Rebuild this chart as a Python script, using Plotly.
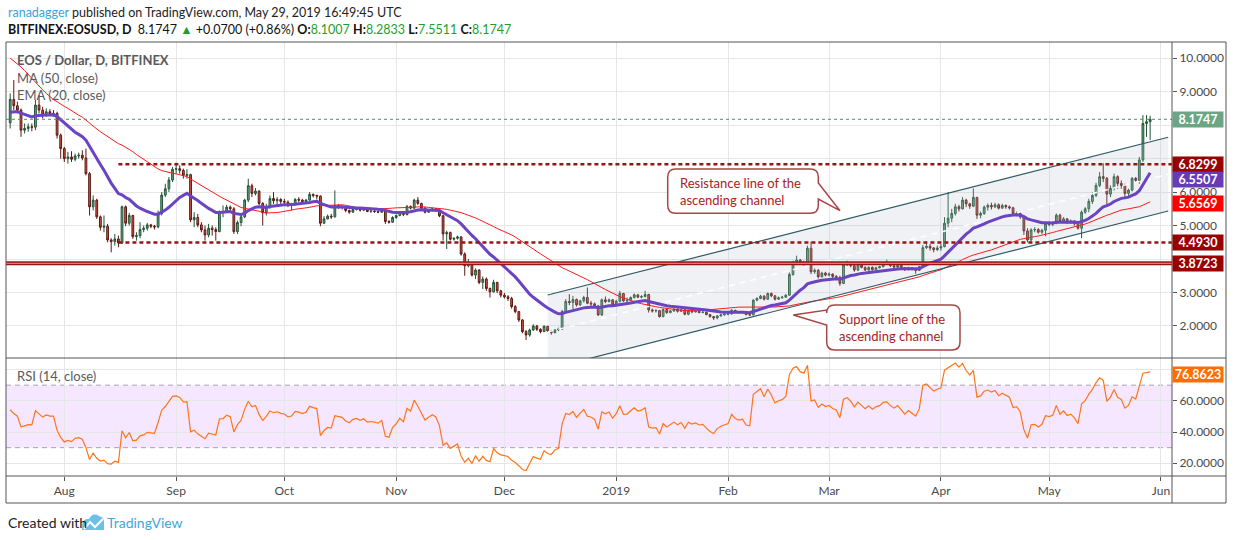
#!/usr/bin/env python3
"""
EOS / Dollar daily chart with MA50, EMA20, ascending channel and RSI(14)
"""

import pandas as pd
import plotly.graph_objs as go

# ---------------------------------------------------------------- data
start_date = "2018-07-17"
first_open = 8.07

close = [
    # Jul 17-31
    8.77, 8.58, 8.45, 7.85, 7.90, 7.95, 7.94, 8.60, 8.45, 8.30, 8.40, 8.35, 8.35, 7.70, 7.30,
    # Aug
    7.00, 7.05, 6.98, 7.08, 7.10, 7.02, 6.55, 5.56, 5.76, 5.26, 4.95, 4.98, 4.57, 4.52, 4.60, 4.48,
    5.56, 5.07, 5.30, 4.67, 4.70, 4.88, 4.92, 5.02, 4.98, 4.96, 5.36, 5.91, 6.10, 6.36, 6.68,
    # Sep
    6.70, 6.65, 6.50, 6.52, 5.17, 5.24, 5.02, 4.87, 4.72, 4.92, 4.88, 4.82, 5.41, 5.42, 5.55,
    5.50, 4.82, 5.09, 5.26, 5.76, 6.19, 5.96, 6.03, 5.66, 5.38, 5.56, 5.81, 5.74, 5.78, 5.72,
    # Oct
    5.70, 5.60, 5.63, 5.78, 5.76, 5.72, 5.76, 5.93, 5.90, 5.88, 5.07, 5.20, 5.28, 5.26, 5.60, 5.57,
    5.55, 5.45, 5.40, 5.48, 5.50, 5.46, 5.49, 5.42, 5.43, 5.42, 5.40, 5.44, 5.12, 5.10, 5.24,
    # Nov
    5.30, 5.39, 5.33, 5.57, 5.52, 5.76, 5.66, 5.52, 5.40, 5.45, 5.50, 5.46, 5.29, 4.75, 4.79,
    4.59, 4.62, 4.66, 4.15, 3.80, 3.87, 3.52, 3.67, 3.30, 3.40, 3.12, 3.02, 3.30, 3.05, 2.92,
    # Dec
    2.87, 2.82, 2.58, 2.43, 2.18, 1.83, 1.73, 1.88, 2.00, 1.90, 1.83, 1.99, 1.85, 1.80, 1.88, 1.91,
    2.43, 2.73, 2.70, 2.79, 2.63, 2.75, 2.85, 2.68, 2.66, 2.60, 2.33, 2.78, 2.73, 2.78, 2.62,
    # Jan
    2.74, 2.97, 2.75, 2.76, 2.85, 2.93, 2.86, 2.88, 2.94, 2.48, 2.45, 2.46, 2.28, 2.49, 2.40, 2.45,
    2.50, 2.44, 2.48, 2.35, 2.46, 2.42, 2.44, 2.40, 2.41, 2.34, 2.28, 2.24, 2.30, 2.33, 2.35,
    # Feb
    2.36, 2.47, 2.42, 2.40, 2.41, 2.34, 2.33, 2.77, 2.82, 2.89, 2.80, 2.97, 2.90, 2.80,
    2.84, 2.86, 2.92, 3.54, 3.87, 3.97, 3.90, 3.88, 4.32, 3.62, 3.66, 3.47, 3.58, 3.52,
    # Mar
    3.55, 3.48, 3.45, 3.27, 3.82, 3.88, 3.80, 3.67, 3.82, 3.75, 3.67, 3.75, 3.68, 3.74, 3.77, 3.85,
    3.86, 3.80, 3.76, 3.81, 3.74, 3.68, 3.74, 3.70, 3.66, 3.77, 4.34, 4.38, 4.33, 4.28, 4.33,
    # Apr
    4.37, 5.07, 5.22, 5.36, 5.56, 5.50, 5.76, 5.65, 5.58, 5.84, 5.31, 5.36, 5.55, 5.60, 5.56,
    5.62, 5.52, 5.60, 5.56, 5.53, 5.34, 5.36, 5.26, 4.84, 4.57, 4.87, 4.88, 4.80, 4.86, 5.06,
    # May 1-29
    5.04, 5.07, 5.31, 5.12, 5.20, 5.10, 5.13, 5.05, 4.92, 5.40, 5.50, 5.72, 5.90, 6.20, 6.46,
    6.41, 5.94, 6.11, 6.46, 6.26, 6.20, 5.96, 6.06, 6.41, 6.35, 6.96, 8.05, 8.1007, 8.1747,
]

high = [
    8.95, 9.35, 8.70, 8.50, 8.05, 8.05, 8.05, 8.75, 8.90, 8.55, 8.50, 8.48, 8.45, 8.40, 7.75,
    7.35, 7.20, 7.22, 7.15, 7.18, 7.25, 7.30, 6.60, 5.90, 5.80, 5.30, 5.30, 5.05, 4.62, 4.75, 4.70,
    5.60, 5.60, 5.38, 5.32, 4.80, 5.10, 5.00, 5.08, 5.05, 5.02, 5.45, 6.00, 6.25, 6.45, 6.75,
    6.88, 6.80, 6.70, 6.68, 6.55, 5.40, 5.35, 5.10, 5.00, 5.05, 5.00, 4.95, 5.45, 5.60, 5.62,
    5.60, 5.55, 5.15, 5.35, 5.80, 6.40, 6.25, 6.12, 6.05, 5.70, 5.65, 5.90, 6.00, 5.85, 5.82,
    5.80, 5.75, 5.68, 5.82, 5.85, 5.80, 5.80, 6.00, 5.96, 5.92, 5.90, 5.28, 5.33, 5.35, 6.05, 5.64,
    5.60, 5.58, 5.48, 5.52, 5.55, 5.52, 5.52, 5.52, 5.47, 5.46, 5.45, 5.47, 5.46, 5.16, 5.28,
    5.33, 5.42, 5.40, 5.62, 5.60, 5.80, 5.85, 5.68, 5.55, 5.48, 5.53, 5.52, 5.48, 5.32, 4.85,
    4.82, 4.65, 4.70, 4.68, 4.20, 4.00, 3.90, 3.72, 3.70, 3.48, 3.45, 3.15, 3.38, 3.32, 3.08,
    2.99, 2.92, 2.87, 2.62, 2.45, 2.20, 1.88, 1.92, 2.05, 2.03, 1.93, 2.02, 2.00, 1.88, 1.90, 1.95,
    2.48, 2.80, 2.95, 2.90, 2.82, 2.78, 2.90, 3.15, 2.75, 2.70, 2.63, 2.82, 2.88, 2.82, 2.80,
    2.78, 3.05, 2.99, 2.85, 2.88, 2.97, 2.95, 2.92, 3.05, 2.96, 2.52, 2.50, 2.48, 2.52, 2.52, 2.48,
    2.53, 2.52, 2.50, 2.50, 2.49, 2.48, 2.47, 2.46, 2.44, 2.43, 2.36, 2.30, 2.32, 2.36, 2.38,
    2.40, 2.50, 2.48, 2.44, 2.44, 2.42, 2.38, 2.80, 2.86, 2.93, 2.92, 3.00, 3.00, 2.92,
    2.88, 2.90, 2.95, 3.60, 3.95, 4.10, 4.00, 3.95, 4.40, 4.52, 3.72, 3.70, 3.62, 3.62,
    3.60, 3.57, 3.52, 3.50, 3.88, 3.95, 3.92, 3.82, 3.86, 3.84, 3.78, 3.78, 3.78, 3.77, 3.80, 3.90,
    3.98, 3.88, 3.82, 3.85, 3.83, 3.76, 3.77, 3.76, 3.72, 3.80, 4.42, 4.50, 4.45, 4.36, 4.40,
    4.45, 5.25, 6.00, 5.50, 5.65, 5.62, 5.85, 5.80, 5.68, 6.11, 5.86, 5.42, 5.60, 5.66, 5.68,
    5.68, 5.66, 5.65, 5.63, 5.60, 5.56, 5.42, 5.40, 5.30, 4.92, 4.92, 4.95, 4.92, 4.90, 5.10,
    5.12, 5.12, 5.36, 5.35, 5.25, 5.22, 5.18, 5.16, 5.08, 5.45, 5.55, 5.80, 6.00, 6.28, 6.60,
    6.86, 6.45, 6.20, 6.55, 6.50, 6.35, 6.25, 6.10, 6.45, 6.45, 7.05, 8.30, 8.30, 8.2833,
]

low = [
    7.90, 8.45, 8.35, 7.65, 7.75, 7.80, 7.82, 7.85, 8.35, 8.20, 8.25, 8.28, 8.25, 7.60, 7.00,
    6.90, 6.85, 6.90, 6.92, 7.00, 6.95, 6.50, 5.30, 5.45, 5.20, 4.85, 4.80, 4.50, 4.20, 4.40, 4.35,
    4.45, 4.98, 5.00, 4.60, 4.55, 4.62, 4.80, 4.85, 4.92, 4.88, 4.92, 5.30, 5.85, 6.00, 6.30,
    6.55, 6.55, 6.40, 6.40, 5.10, 4.95, 4.95, 4.80, 4.55, 4.65, 4.70, 4.55, 4.80, 5.25, 5.38,
    5.40, 4.75, 4.75, 4.98, 5.22, 5.70, 5.85, 5.90, 5.60, 5.00, 5.30, 5.50, 5.65, 5.62, 5.62,
    5.62, 5.55, 5.45, 5.60, 5.70, 5.66, 5.68, 5.74, 5.84, 5.78, 4.98, 5.05, 5.18, 5.20, 5.24, 5.50,
    5.48, 5.40, 5.35, 5.38, 5.45, 5.42, 5.43, 5.40, 5.38, 5.38, 5.37, 5.38, 5.05, 5.06, 5.08,
    5.20, 5.28, 5.28, 5.30, 5.48, 5.50, 5.62, 5.45, 5.36, 5.38, 5.42, 5.42, 5.25, 4.55, 4.30,
    4.55, 4.55, 4.58, 4.10, 3.50, 3.75, 3.48, 3.40, 3.25, 3.10, 3.05, 2.85, 3.00, 2.98, 2.85,
    2.82, 2.75, 2.52, 2.38, 2.12, 1.78, 1.58, 1.68, 1.85, 1.85, 1.78, 1.82, 1.82, 1.74, 1.78, 1.85,
    1.88, 2.40, 2.62, 2.50, 2.58, 2.60, 2.70, 2.65, 2.55, 2.55, 2.30, 2.30, 2.68, 2.70, 2.58,
    2.58, 2.70, 2.72, 2.70, 2.74, 2.82, 2.83, 2.82, 2.85, 2.40, 2.40, 2.40, 2.25, 2.26, 2.36, 2.38,
    2.42, 2.40, 2.42, 2.32, 2.32, 2.38, 2.40, 2.38, 2.38, 2.32, 2.25, 2.18, 2.20, 2.28, 2.31,
    2.32, 2.34, 2.39, 2.37, 2.38, 2.32, 2.30, 2.32, 2.74, 2.80, 2.76, 2.78, 2.86, 2.76,
    2.78, 2.82, 2.84, 2.90, 3.50, 3.82, 3.82, 3.80, 3.85, 3.55, 3.56, 3.42, 3.45, 3.48,
    3.48, 3.42, 3.40, 3.20, 3.26, 3.80, 3.75, 3.62, 3.64, 3.72, 3.64, 3.65, 3.65, 3.66, 3.72, 3.75,
    3.82, 3.76, 3.72, 3.74, 3.70, 3.64, 3.66, 3.66, 3.56, 3.64, 3.75, 4.30, 4.25, 4.20, 4.24,
    4.25, 4.35, 4.95, 5.10, 5.30, 5.42, 5.48, 5.55, 5.50, 5.55, 5.20, 5.22, 5.32, 5.45, 5.48,
    5.52, 5.48, 5.50, 5.50, 5.48, 5.30, 5.28, 5.20, 4.72, 4.50, 4.52, 4.80, 4.76, 4.75, 4.68,
    4.98, 4.98, 5.04, 5.08, 5.08, 5.05, 5.05, 5.00, 4.88, 4.62, 5.35, 5.40, 5.65, 5.85, 6.15,
    6.30, 5.60, 5.85, 6.05, 6.10, 6.10, 5.80, 5.85, 6.02, 6.30, 6.25, 6.90, 7.65, 7.5511,
]

# closes 2018-05-28 .. 2018-07-16, only used to warm up MA / EMA / RSI
warmup_close = [
    11.9, 12.6, 12.5, 12.9,
    13.3, 13.9, 14.5, 13.6, 14.1, 14.0, 13.6, 13.1, 12.9, 10.9, 11.3, 10.0, 9.9, 10.8, 10.2,
    10.4, 10.0, 10.3, 10.6, 10.3, 9.9, 8.7, 8.5, 8.2, 8.3, 7.9, 8.1, 7.7, 8.0, 8.5,
    8.4, 8.9, 8.6, 8.7, 8.5, 8.6, 8.7, 8.6, 8.3, 7.7, 7.9, 7.6, 7.6, 7.7, 7.9, 8.07,
]

# horizontal levels drawn on the chart
level_values = [6.8299, 4.4930, 3.8723]
level_start = ["2018-08-16", "2018-08-16", "2018-07-10"]

# ascending channel (two parallel trend lines)
channel_dates = ["2018-12-13", "2019-06-03"]
channel_upper = [2.925, 7.637]
channel_lower = [0.711, 5.435]

# values shown in the price scale boxes
label_ema = "6.5507"
label_ma = "5.6569"
label_rsi = "76.8623"

month_ticks = ["2018-08-01", "2018-09-01", "2018-10-01", "2018-11-01", "2018-12-01",
               "2019-01-01", "2019-02-01", "2019-03-01", "2019-04-01", "2019-05-01",
               "2019-06-01"]
month_text = ["Aug", "Sep", "Oct", "Nov", "Dec", "2019", "Feb", "Mar", "Apr", "May", "Jun"]

price_ticks = [2, 3, 4, 5, 6, 7, 8, 9, 10]
price_hidden = [4, 7, 8]      # covered by the value boxes on the scale
rsi_ticks = [20, 40, 60, 80]
rsi_hidden = [80]

# ---------------------------------------------------------------- geometry
W, H = 1234, 540
ML, MR, MT, MB = 6, 62, 42, 64
PW, PH = W - ML - MR, H - MT - MB
SPLIT = 118 / PH          # RSI pane height share
FONT = "Lato"

DARK_RED = "#9a1414"
GREEN_TXT = "#1f9e2c"


def px(x, y):
    """pixel position -> paper coordinates"""
    return (x - ML) / PW, (H - MB - y) / PH


def pt(x, y):
    a, b = px(x, y)
    return f"{a:.5f},{b:.5f}"


def callout_path(x0, y0, x1, y1, r, tail, side):
    """rounded box with a wedge tail, pixel coords -> svg path in paper"""
    p = [f"M {pt(x0 + r, y0)}", f"L {pt(x1 - r, y0)}", f"Q {pt(x1, y0)} {pt(x1, y0 + r)}"]
    if side == "right":
        p += [f"L {pt(*tail[0])}", f"L {pt(*tail[1])}", f"L {pt(*tail[2])}"]
    p += [f"L {pt(x1, y1 - r)}", f"Q {pt(x1, y1)} {pt(x1 - r, y1)}",
          f"L {pt(x0 + r, y1)}", f"Q {pt(x0, y1)} {pt(x0, y1 - r)}"]
    if side == "left":
        p += [f"L {pt(*tail[0])}", f"L {pt(*tail[1])}", f"L {pt(*tail[2])}"]
    p += [f"L {pt(x0, y0 + r)}", f"Q {pt(x0, y0)} {pt(x0 + r, y0)}", "Z"]
    return " ".join(p)


def main():

    dates = pd.date_range(start_date, periods=len(close), freq="D")
    opens = [first_open] + close[:-1]
    highs = [max(h, o, c) for h, o, c in zip(high, opens, close)]
    lows = [min(lo, o, c) for lo, o, c in zip(low, opens, close)]

    # indicators on the full close history
    n0 = len(warmup_close)
    full = pd.Series(warmup_close + close)
    ma50 = full.rolling(50).mean().iloc[n0:].values
    ema20 = full.ewm(span=20, adjust=False).mean().iloc[n0:].values
    delta = full.diff()
    gain = delta.clip(lower=0).ewm(alpha=1 / 14, adjust=False).mean()
    loss = (-delta.clip(upper=0)).ewm(alpha=1 / 14, adjust=False).mean()
    rsi = (100 - 100 / (1 + gain / loss)).iloc[n0:].values

    x_range = ["2018-07-15 20:10", "2019-06-04 01:26"]

    data = []

    # channel fill + mid line
    ch_mid = [(a + b) / 2 for a, b in zip(channel_upper, channel_lower)]
    data.append(go.Scatter(
        x=[channel_dates[0], channel_dates[1], channel_dates[1], channel_dates[0], channel_dates[0]],
        y=[channel_upper[0], channel_upper[1], channel_lower[1], channel_lower[0], channel_upper[0]],
        mode="lines", fill="toself", fillcolor="rgba(180,190,205,0.22)",
        line=dict(width=0), hoverinfo="skip", showlegend=False))
    data.append(go.Scatter(x=channel_dates, y=ch_mid, mode="lines",
                           line=dict(color="rgba(255,255,255,0.95)", width=1.5, dash="6px,5px"),
                           hoverinfo="skip", showlegend=False))

    data.append(go.Candlestick(
        x=dates, open=opens, high=highs, low=lows, close=close,
        increasing=dict(line=dict(color="#225437", width=1), fillcolor="#6ba583"),
        decreasing=dict(line=dict(color="#5b1a13", width=1), fillcolor="#d75442"),
        whiskerwidth=0, hoverinfo="skip", showlegend=False))

    data.append(go.Scatter(x=dates, y=ma50, mode="lines",
                           line=dict(color="#ff1a1a", width=1), hoverinfo="skip", showlegend=False))
    data.append(go.Scatter(x=dates, y=ema20, mode="lines",
                           line=dict(color="#6a44c2", width=3), hoverinfo="skip", showlegend=False))

    for ys in (channel_upper, channel_lower):
        data.append(go.Scatter(x=channel_dates, y=ys, mode="lines",
                               line=dict(color="#2d5a66", width=1.2),
                               hoverinfo="skip", showlegend=False))

    data.append(go.Scatter(x=dates, y=rsi, mode="lines", yaxis="y2",
                           line=dict(color="#ff7518", width=1.2), hoverinfo="skip", showlegend=False))

    shapes = []
    # RSI band 30..70
    shapes.append(dict(type="rect", xref="paper", x0=0, x1=1, yref="y2", y0=30, y1=70,
                       fillcolor="rgba(153,21,255,0.1)", line=dict(width=0), layer="below"))
    for lvl in (70, 30):
        shapes.append(dict(type="line", xref="paper", x0=0, x1=1, yref="y2", y0=lvl, y1=lvl,
                           line=dict(color="#aaa2b4", width=1, dash="5px,4px"), layer="below"))

    # last price dotted line
    shapes.append(dict(type="line", xref="paper", x0=0, x1=1, yref="y", y0=close[-1], y1=close[-1],
                       line=dict(color="#4d8f68", width=1, dash="dot")))

    # support / resistance levels
    for val, x0 in zip(level_values[:2], level_start[:2]):
        shapes.append(dict(type="line", xref="x", x0=x0, x1=x_range[1], yref="y", y0=val, y1=val,
                           line=dict(color=DARK_RED, width=2.6, dash="4px,3px")))
    shapes.append(dict(type="line", xref="x", x0=level_start[2], x1=x_range[1], yref="y",
                       y0=level_values[2], y1=level_values[2],
                       line=dict(color=DARK_RED, width=4)))
    shapes.append(dict(type="line", xref="x", x0=level_start[2], x1=x_range[1], yref="y",
                       y0=level_values[2], y1=level_values[2],
                       line=dict(color="#d99a9a", width=1)))

    # callouts
    shapes.append(dict(type="path", xref="paper", yref="paper",
                       path=callout_path(667.7, 169, 818.3, 213.3, 8,
                                         [(818.3, 183), (840, 210.7), (818.3, 199)], "right"),
                       fillcolor="white", line=dict(color="#a84646", width=1.5)))
    shapes.append(dict(type="path", xref="paper", yref="paper",
                       path=callout_path(826.7, 305, 960, 350, 8,
                                         [(826.7, 325), (793.3, 315), (826.7, 310)], "left"),
                       fillcolor="white", line=dict(color="#a84646", width=1.5)))

    # frame and pane separators
    fx1 = px(1226, 0)[0]
    fy0 = px(0, 503)[1]
    frame = dict(color="#555555", width=1)
    shapes.append(dict(type="rect", xref="paper", yref="paper", x0=0, x1=fx1, y0=fy0, y1=1,
                       line=frame))
    shapes.append(dict(type="line", xref="paper", yref="paper", x0=0, x1=fx1, y0=SPLIT, y1=SPLIT,
                       line=frame))
    shapes.append(dict(type="line", xref="paper", yref="paper", x0=0, x1=fx1, y0=0, y1=0,
                       line=frame))
    shapes.append(dict(type="line", xref="paper", yref="paper", x0=1, x1=1, y0=fy0, y1=1,
                       line=frame))

    # TradingView logo in footer
    shapes.append(dict(type="path", xref="paper", yref="paper",
                       path=f"M {pt(82, 530)} L {pt(82, 525)} Q {pt(83, 518)} {pt(89, 519)} "
                            f"Q {pt(93, 512)} {pt(99, 516)} Q {pt(105, 517)} {pt(104, 524)} "
                            f"L {pt(104, 530)} Z",
                       fillcolor="#6cc0e8", line=dict(width=0)))
    shapes.append(dict(type="path", xref="paper", yref="paper",
                       path=f"M {pt(84, 529)} L {pt(90, 522)} L {pt(95, 527)} L {pt(103, 519)}",
                       line=dict(color="white", width=2)))

    annotations = []

    def text(x, y, s, size=12.5, color="#333333", xanchor="left"):
        a, b = px(x, y)
        annotations.append(dict(xref="paper", yref="paper", x=a, y=b, text=s, showarrow=False,
                                xanchor=xanchor, yanchor="middle", align="left",
                                font=dict(family=FONT, size=size, color=color)))

    text(6, 13, '<span style="color:#3aa3df">ranadagger</span> published on TradingView.com, '
                'May 29, 2019 16:49:45 UTC', color="#222222")
    text(6, 30, f'<b>BITFINEX:EOSUSD, D</b>  {close[-1]:.4f} '
                f'<span style="color:{GREEN_TXT}">▲</span> +0.0700 (+0.86%) '
                f'<b>O:</b><span style="color:{GREEN_TXT}">{opens[-1]:.4f}</span> '
                f'<b>H:</b><span style="color:{GREEN_TXT}">{highs[-1]:.4f}</span> '
                f'<b>L:</b><span style="color:{GREEN_TXT}">{lows[-1]:.4f}</span> '
                f'<b>C:</b><span style="color:{GREEN_TXT}">{close[-1]:.4f}</span>',
         color="#111111")

    text(15, 60, "<b>EOS / Dollar, D, BITFINEX</b>", size=13, color="#5a5a5a")
    text(15, 78, "MA (50, close)", size=13, color="#5a5a5a")
    text(15, 95, "EMA (20, close)", size=13, color="#5a5a5a")
    text(15, 376, "RSI (14, close)", size=13, color="#5a5a5a")

    text(678, 191, "Resistance line of the<br>ascending channel", size=13, color="#a82222")
    text(837, 327, "Support line of the<br>ascending channel", size=13, color="#a82222")

    text(6, 522, "Created with", size=14, color="#222222")
    text(105, 522, "TradingView", size=14, color="#3fa7dd")

    # price scale boxes
    def tag(s, yval, bg, yref="y", shift=0):
        annotations.append(dict(xref="paper", x=1.0, xanchor="left", yref=yref, y=yval,
                                yanchor="middle", yshift=shift, text=f"<b>{s}</b>",
                                showarrow=False, bgcolor=bg, width=47, height=12, borderpad=1.5,
                                align="center", font=dict(family=FONT, size=12.5, color="white")))

    tag(f"{close[-1]:.4f}", close[-1], "#6ba583")
    tag(f"{level_values[0]:.4f}", level_values[0], "#990000")
    tag(label_ema, float(label_ema), "#673ab7", shift=-5.5)
    tag(label_ma, float(label_ma), "#ff0000")
    tag(f"{level_values[1]:.4f}", level_values[1], "#990000")
    tag(f"{level_values[2]:.4f}", level_values[2], "#990000")
    tag(label_rsi, float(label_rsi), "#ff6d00", yref="y2")

    axis_font = dict(family=FONT, size=12, color="#4a4a4a")
    grid = "#e6e6e6"
    price_text = ["" if v in price_hidden else f"{v:.4f}" for v in price_ticks]
    rsi_text = ["" if v in rsi_hidden else f"{v:.4f}" for v in rsi_ticks]

    layout = go.Layout(
        width=W, height=H, margin=dict(l=ML, r=MR, t=MT, b=MB),
        paper_bgcolor="white", plot_bgcolor="white", showlegend=False,
        xaxis=dict(type="date", range=x_range, anchor="y2", tickmode="array",
                   tickvals=month_ticks, ticktext=month_text, showgrid=True, gridcolor=grid,
                   ticks="outside", ticklen=4, tickcolor="#555555", tickfont=axis_font,
                   showline=False, zeroline=False, rangeslider=dict(visible=False)),
        yaxis=dict(domain=[SPLIT, 1], range=[1.0428, 10.484], side="right", anchor="x",
                   tickmode="array", tickvals=price_ticks, ticktext=price_text,
                   showgrid=True, gridcolor=grid, ticks="outside", ticklen=4,
                   tickcolor="#555555", tickfont=axis_font, zeroline=False, showline=False),
        yaxis2=dict(domain=[0, SPLIT], range=[11.86, 87.4], side="right", anchor="x",
                    tickmode="array", tickvals=rsi_ticks, ticktext=rsi_text,
                    showgrid=True, gridcolor=grid, ticks="outside", ticklen=4,
                    tickcolor="#555555", tickfont=axis_font, zeroline=False, showline=False),
        shapes=shapes, annotations=annotations,
    )

    fig = go.Figure(data=data, layout=layout)
    fig.write_html("out.html", config={"displayModeBar": False},
                   post_script="document.body.style.margin='0';")


if __name__ == "__main__":

    main()
